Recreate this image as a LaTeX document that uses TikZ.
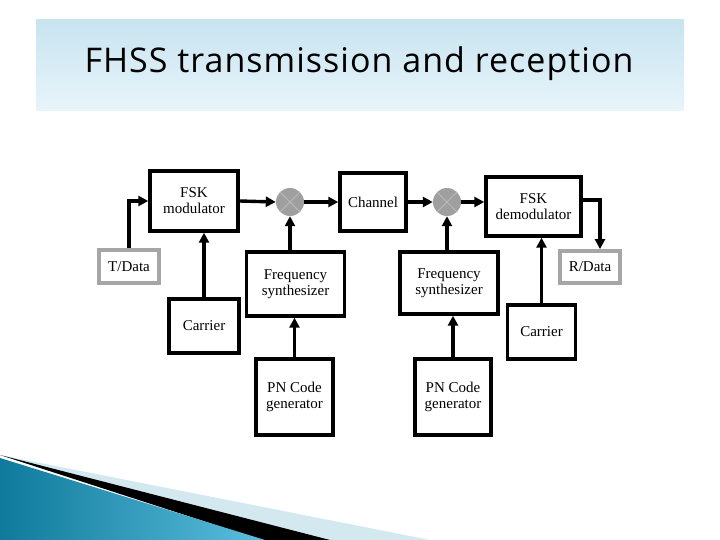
\documentclass[tikz,border=0pt]{standalone}
\usepackage{fontspec}
\setmainfont{Liberation Serif}
\newfontfamily\titlefont[LetterSpace=3]{Open Sans}
\usetikzlibrary{arrows.meta}
\definecolor{bandtop}{HTML}{C8E4F0}
\definecolor{bandbot}{HTML}{E8F4FA}
\definecolor{deepblue}{HTML}{0F7A9C}
\definecolor{lightblue}{HTML}{5BBEDD}
\definecolor{paleblue}{HTML}{D4E8F0}
\begin{document}
\begin{tikzpicture}[x=1pt,y=-1pt,
  blk/.style={draw,line width=3.4pt,align=center,font=\fontsize{15}{16}\selectfont,inner sep=0pt},
  gblk/.style={draw=gray!70,line width=3.8pt,font=\fontsize{15}{16}\selectfont,inner sep=0pt},
  mix/.style={circle,fill=gray!75,minimum size=28pt,inner sep=0pt},
  arr/.style={line width=3.4pt,-{Triangle[length=10pt,width=10pt]}}]
\useasboundingbox (0,0) rectangle (720,540);
\fill[white] (0,0) rectangle (720,540);
\shade[top color=bandtop,bottom color=bandbot] (36,20) rectangle (684,111);
\node[font=\titlefont\fontsize{34}{36}\selectfont] (title) at (359,64) {FHSS transmission and reception};
% bottom decoration
\fill[paleblue] (0,455) -- (430,540) -- (280,540) -- cycle;
\fill[black] (0,455) -- (330,540) -- (262,540) -- cycle;
\shade[left color=deepblue,right color=lightblue] (0,458) -- (265,540) -- (0,540) -- cycle;
% blocks
\node[blk,minimum width=88pt,minimum height=60pt] (mod) at (194,201) {FSK\\modulator};
\node[gblk,minimum width=60pt,minimum height=33pt] (td) at (129,266.5) {T/Data};
\node[blk,minimum width=70pt,minimum height=54pt] (carl) at (204,326) {Carrier};
\node[mix] (m1) at (290,202) {};
\draw[gray!55,line width=0.8pt] (m1.north west)--(m1.south east) (m1.north east)--(m1.south west);
\node[blk,minimum width=66pt,minimum height=58pt] (ch) at (373,202) {Channel};
\node[mix] (m2) at (447,202) {};
\draw[gray!55,line width=0.8pt] (m2.north west)--(m2.south east) (m2.north east)--(m2.south west);
\node[blk,minimum width=95pt,minimum height=59pt] (dem) at (533.5,206.5) {FSK\\demodulator};
\node[gblk,minimum width=60pt,minimum height=32pt] (rd) at (590,267) {R/Data};
\node[blk,minimum width=98pt,minimum height=64pt] (fsl) at (295.5,284) {Frequency\\synthesizer};
\node[blk,minimum width=98pt,minimum height=62pt] (fsr) at (449,283) {Frequency\\synthesizer};
\node[blk,minimum width=68pt,minimum height=54pt] (carr) at (541.5,332) {Carrier};
\node[blk,minimum width=77pt,minimum height=76pt] (pnl) at (294.5,397) {PN Code\\generator};
\node[blk,minimum width=76pt,minimum height=76pt] (pnr) at (453,397) {PN Code\\generator};
% connectors
\draw[arr] (td.north) |- (mod.west);
\draw[arr] (mod.east) -- (m1.west);
\draw[arr] (carl.north) -- (mod.south -| carl);
\draw[arr] (m1.east) -- (ch.west);
\draw[arr] (fsl.north -| m1) -- (m1.south);
\draw[arr] (pnl.north) -- (fsl.south -| pnl);
\draw[arr] (ch.east) -- (m2.west);
\draw[arr] (m2.east) -- (dem.west |- m2);
\draw[arr] (fsr.north -| m2) -- (m2.south);
\draw[arr] (pnr.north) -- (fsr.south -| pnr);
\draw[arr] (carr.north) -- (dem.south -| carr);
\draw[arr] (dem.east |- 0,200) -| (rd.north east -| 600,0);
\end{tikzpicture}
\end{document}
